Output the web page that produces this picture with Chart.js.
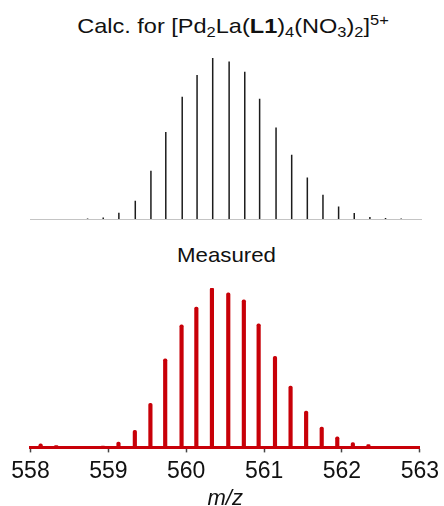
<!DOCTYPE html>
<html>
<head>
<meta charset="utf-8">
<script src="https://cdn.jsdelivr.net/npm/chart.js@4.4.0/dist/chart.umd.min.js"></script>
<style>
html, body { margin: 0; padding: 0; background: #fff; overflow: hidden; width: 444px; height: 506px; }
#wrap { position: relative; width: 444px; height: 506px; font-family: "Liberation Sans", Arial, sans-serif; color: #111; }
.lbl { position: absolute; white-space: nowrap; font-size: 21px; line-height: 21px; text-align: center; transform-origin: 50% 50%; }
.lbl sub, .lbl sup { font-size: 0.7em; line-height: 0; }
.lbl sub { vertical-align: -0.3em; }
.lbl sup { vertical-align: 0.55em; }
.box { position: absolute; left: 0; width: 444px; }
</style>
</head>
<body>
<div id="wrap">
  <div class="lbl" style="left:0; width:466px; top:15px; transform:scaleX(1.12);">Calc. for [Pd<sub>2</sub>La(<b>L1</b>)<sub>4</sub>(NO<sub>3</sub>)<sub>2</sub>]<sup>5+</sup></div>
  <div class="lbl" style="left:0; width:453px; top:244px; transform:scaleX(1.06);">Measured</div>
  <div class="box" style="top:0; height:230px;"><canvas id="calc"></canvas></div>
  <div class="box" style="top:230px; height:282px;"><canvas id="meas"></canvas></div>
</div>
<script>
// m/z range and tick labels
const mzMin = 558;
const mzMax = 563;
const mzTicks = [558, 559, 560, 561, 562, 563];

// calculated isotope pattern (relative intensity, %)
const calcMz = [558.73, 558.93, 559.13, 559.34, 559.54, 559.73, 559.94, 560.13, 560.33, 560.54, 560.74,
                560.93, 561.14, 561.34, 561.54, 561.74, 561.94, 562.14, 562.34, 562.54, 562.74];
const calcInt = [0.3, 1.0, 3.9, 11.4, 30.0, 54.0, 76.0, 89.4, 100, 97.9, 91.5,
                 74.7, 56.9, 39.9, 25.8, 15.1, 7.8, 3.7, 1.2, 0.6, 0.3];

// measured spectrum peaks (relative intensity, %)
const measMz = [558.13, 558.33, 558.53, 558.73, 558.93, 559.13, 559.34, 559.54, 559.73, 559.94, 560.13,
                560.33, 560.54, 560.74, 560.93, 561.14, 561.34, 561.54, 561.74, 561.94, 562.14, 562.34,
                562.54, 562.74, 562.94];
const measInt = [2.3, 1.2, 0.5, 0.5, 0.8, 3.3, 10.7, 27.7, 55.5, 76.9, 88.1,
                 100, 96.9, 92.6, 77.5, 57.2, 38.4, 22.8, 12.8, 6.7, 3.1, 1.7,
                 0.6, 0.4, 0.4];

Chart.defaults.font.family = "'Liberation Sans', Arial, sans-serif";
Chart.defaults.color = '#111';

const toPoints = (xs, ys) => xs.map((x, i) => ({ x: x, y: ys[i] }));

// calculated pattern: thin sticks on a light grey baseline
new Chart(document.getElementById('calc'), {
  type: 'bar',
  data: {
    datasets: [{
      data: toPoints(calcMz, calcInt),
      backgroundColor: '#1c1c1c',
      barThickness: 1.5,
      inflateAmount: 0,
      grouped: false
    }]
  },
  options: {
    responsive: true,
    maintainAspectRatio: false,
    animation: false,
    layout: { padding: { left: 30.5, right: 22.5, top: 58, bottom: 3 } },
    plugins: { legend: { display: false }, tooltip: { enabled: false } },
    scales: {
      x: {
        type: 'linear', min: mzMin, max: mzMax, offset: false,
        grid: { display: false, offset: false },
        ticks: { display: false },
        border: { display: true, color: '#c4c4c4', width: 1 }
      },
      y: { min: 0, max: 100, display: false }
    }
  }
});

// measured spectrum: red peaks on a thick red axis line
new Chart(document.getElementById('meas'), {
  type: 'bar',
  data: {
    datasets: [{
      data: toPoints(measMz, measInt),
      backgroundColor: '#c80008',
      barThickness: 3.5,
      borderRadius: 2,
      borderSkipped: 'start',
      grouped: false
    }]
  },
  options: {
    responsive: true,
    maintainAspectRatio: false,
    animation: false,
    layout: { padding: { left: 30.5, right: 22.5, top: 58, bottom: 0 } },
    plugins: { legend: { display: false }, tooltip: { enabled: false } },
    scales: {
      x: {
        type: 'linear', min: mzMin, max: mzMax, offset: false,
        afterBuildTicks: (scale) => { scale.ticks = mzTicks.map(v => ({ value: v })); },
        grid: { display: true, drawOnChartArea: false, drawTicks: true, tickLength: 5, tickColor: '#444', tickWidth: 1.5, offset: false },
        ticks: { padding: 5, font: { size: 23 }, color: '#111', maxRotation: 0 },
        border: { display: true, color: '#c80008', width: 3 },
        title: { display: true, text: 'm/z', font: { size: 22, style: 'italic', lineHeight: 1 }, color: '#111', padding: { top: -2, bottom: 2 } }
      },
      y: { min: 0, max: 100, display: false }
    }
  }
});
</script>
</body>
</html>
